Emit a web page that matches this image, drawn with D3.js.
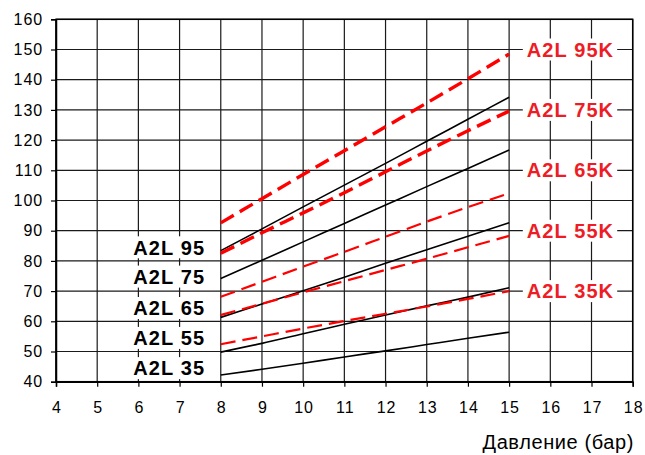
<!DOCTYPE html>
<html>
<head>
<meta charset="utf-8">
<script src="https://cdn.jsdelivr.net/npm/d3@7"></script>
<style>
  body { margin: 0; background: #fff; }
  text { font-family: "Liberation Sans", Arial, sans-serif; }
</style>
</head>
<body>
<div id="main"></div>
<script>
// pressure (bar) on x
const pressure = [8, 9, 10, 11, 12, 13, 14, 15];

const a2l95 = [83.4, 90.6, 97.9, 105.1, 112.3, 119.6, 126.9, 134.2];
const a2l75 = [74.2, 80.2, 86.3, 92.4, 98.5, 104.6, 110.6, 116.7];
const a2l65 = [61.3, 65.7, 70.1, 74.6, 79.2, 83.7, 88.2, 92.6];
const a2l55 = [49.8, 52.7, 55.9, 59.0, 62.1, 65.1, 68.0, 71.1];
const a2l35 = [42.2, 44.1, 46.1, 48.2, 50.2, 52.3, 54.4, 56.4];

const a2l95k = [92.6, 100.6, 108.6, 116.5, 124.4, 132.3, 140.3, 148.5];
const a2l75k = [82.5, 89.3, 95.9, 102.6, 109.5, 116.4, 123.1, 129.6];
const a2l65k = [68.1, 73.1, 78.1, 83.0, 88.0, 93.0, 97.8, 102.4];
const a2l55k = [62.1, 65.8, 69.6, 73.3, 77.0, 80.7, 84.5, 88.3];
const a2l35k = [52.4, 55.0, 57.6, 60.1, 62.5, 64.9, 67.4, 70.0];

const blackSeries = [a2l95, a2l75, a2l65, a2l55, a2l35];
const redSeries = [a2l95k, a2l75k, a2l65k, a2l55k, a2l35k];

const blackLabels = ["A2L 95", "A2L 75", "A2L 65", "A2L 55", "A2L 35"];
const blackLabelY = [84.5, 74.8, 64.4, 54.5, 44.5];
const redLabels = ["A2L 95K", "A2L 75K", "A2L 65K", "A2L 55K", "A2L 35K"];
const redLabelY = [150, 130, 110, 90, 70];

const xTicks = d3.range(4, 19, 1);
const yTicks = d3.range(40, 161, 10);
const xTitle = "Давление (бар)";

const c = {width: 576.7, height: 362.4, top: 19.3, left: 56};

const svg = d3.select("#main")
  .append("svg")
  .attr("width", 645)
  .attr("height", 455);

const g = svg.append("g")
  .attr("transform", `translate(${c.left},${c.top})`);

const x = d3.scaleLinear().domain([4, 18]).range([0, c.width]);
const y = d3.scaleLinear().domain([40, 160]).range([c.height, 0]);

// grid
g.append("g")
  .selectAll("line")
  .data(yTicks)
  .join("line")
  .attr("x1", 0)
  .attr("x2", c.width)
  .attr("y1", d => y(d))
  .attr("y2", d => y(d))
  .attr("stroke", "#1a1a1a")
  .attr("stroke-width", 1.2);

g.append("g")
  .selectAll("line")
  .data(xTicks)
  .join("line")
  .attr("x1", d => x(d))
  .attr("x2", d => x(d))
  .attr("y1", 0)
  .attr("y2", c.height)
  .attr("stroke", "#1a1a1a")
  .attr("stroke-width", 1.2);

// axes
const yAxis = g.append("g")
  .call(d3.axisLeft(y).tickValues(yTicks).tickSize(5).tickPadding(8));
const xAxis = g.append("g")
  .attr("transform", `translate(0,${c.height})`)
  .call(d3.axisBottom(x).tickValues(xTicks).tickSize(5).tickPadding(15));

[yAxis, xAxis].forEach(a => {
  a.select(".domain").attr("stroke", "#000").attr("stroke-width", 1.5);
  a.selectAll(".tick line").attr("stroke", "#000").attr("stroke-width", 1.2);
  a.selectAll(".tick text")
    .attr("fill", "#000")
    .style("font-size", "16px")
    .style("letter-spacing", "0.9px")
    .style("font-family", "'Liberation Sans', Arial, sans-serif");
});
xAxis.selectAll(".tick text").attr("dx", "0.45px");

g.append("rect")
  .attr("width", c.width)
  .attr("height", c.height)
  .attr("fill", "none")
  .attr("stroke", "#000")
  .attr("stroke-width", 1.5);

// lines
const line = d3.line()
  .x((d, i) => x(pressure[i]))
  .y(d => y(d))
  .curve(d3.curveMonotoneX);

g.append("g")
  .selectAll("path")
  .data(blackSeries)
  .join("path")
  .attr("d", line)
  .attr("fill", "none")
  .attr("stroke", "#000")
  .attr("stroke-width", 1.6);

g.append("g")
  .selectAll("path")
  .data(redSeries)
  .join("path")
  .attr("d", line)
  .attr("fill", "none")
  .attr("stroke", "#ff0000")
  .attr("stroke-width", (d, i) => i < 2 ? 3.4 : 2.2)
  .attr("stroke-dasharray", "15,7");

// labels with white boxes
function addLabel(text, xv, yv, anchor, color) {
  const t = g.append("text")
    .attr("x", x(xv))
    .attr("y", y(yv))
    .attr("dy", "0.36em")
    .attr("text-anchor", anchor)
    .attr("fill", color)
    .style("font-size", "20px")
    .style("font-weight", "bold")
    .style("letter-spacing", "1.1px")
    .text(text);
  const b = t.node().getBBox();
  g.insert("rect", () => t.node())
    .attr("x", b.x - 4)
    .attr("y", y(yv) - 11)
    .attr("width", b.width + 7)
    .attr("height", 22)
    .attr("fill", "#fff");
}

blackLabels.forEach((t, i) => addLabel(t, 7.62, blackLabelY[i], "end", "#000"));
redLabels.forEach((t, i) => addLabel(t, 16.49, redLabelY[i], "middle", "#ee1c25"));

svg.append("text")
  .attr("x", 634)
  .attr("y", 449)
  .attr("text-anchor", "end")
  .attr("fill", "#000")
  .style("font-size", "20px")
  .style("letter-spacing", "0.6px")
  .text(xTitle);
</script>
</body>
</html>
